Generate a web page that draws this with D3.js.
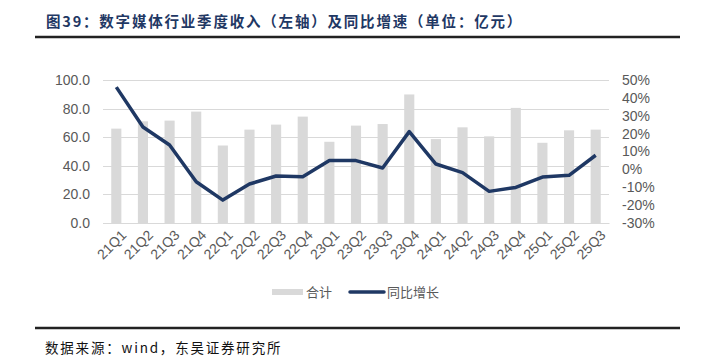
<!DOCTYPE html>
<html>
<head>
<meta charset="utf-8">
<script src="https://cdn.jsdelivr.net/npm/d3@7"></script>
<style>
  body { margin: 0; background: #fff; }
  svg { display: block; }
</style>
</head>
<body>
<div id="grafico"></div>
<script>
var trimestres = ["21Q1","21Q2","21Q3","21Q4","22Q1","22Q2","22Q3","22Q4","23Q1","23Q2","23Q3","23Q4","24Q1","24Q2","24Q3","24Q4","25Q1","25Q2","25Q3"];
// 合计 (亿元), left axis
var receita = [66.0, 71.1, 71.6, 77.9, 54.2, 65.3, 68.8, 74.4, 56.8, 68.1, 69.2, 89.9, 58.7, 66.9, 60.6, 80.5, 56.1, 64.8, 65.3];
// 同比增长 (%), right axis
var crescimento = [46.0, 23.7, 13.6, -6.9, -17.2, -8.2, -3.7, -4.1, 4.9, 4.9, 0.8, 21.1, 3.0, -1.8, -12.3, -10.1, -4.3, -3.3, 7.9];
var ticksEsq = [0, 20, 40, 60, 80, 100];
var ticksDir = [-30, -20, -10, 0, 10, 20, 30, 40, 50];

var titulo = "图39：数字媒体行业季度收入（左轴）及同比增速（单位：亿元）",
    fonte = "数据来源：wind，东吴证券研究所",
    legendas = ["合计", "同比增长"];

var largura = 702, altura = 358,
    corBarra = "#d9d9d9",
    corLinha = "#1f3864",
    corTexto = "#595959",
    fonteNum = "'Liberation Sans', Arial, sans-serif",
    fonteCJK = "'Noto Sans CJK SC', sans-serif";

var svg = d3.select("#grafico").append("svg")
    .attr("width", largura)
    .attr("height", altura);

svg.append("rect").attr("width", largura).attr("height", altura).attr("fill", "#fff");

// titulo + regua
svg.append("text").text(titulo)
   .attr("x", 46).attr("y", 27)
   .style("font-family", fonteCJK)
   .style("font-size", "14.5px")
   .style("font-weight", "bold")
   .style("letter-spacing", "1.8px")
   .style("fill", corLinha);

svg.append("line")
   .attr("x1", 35).attr("x2", 680).attr("y1", 37).attr("y2", 37)
   .attr("stroke", "#222").attr("stroke-width", 2.5);

svg.append("line")
   .attr("x1", 35).attr("x2", 680).attr("y1", 328).attr("y2", 328)
   .attr("stroke", "#222").attr("stroke-width", 2.5);

svg.append("text").text(fonte)
   .attr("x", 45).attr("y", 353)
   .style("font-family", fonteCJK)
   .style("font-size", "13.5px")
   .style("letter-spacing", "1.8px")
   .style("fill", "#111");

// escalas
var x = d3.scaleBand().domain(trimestres).range([103, 609])
    .paddingInner(0.62).paddingOuter(0.31);
var yEsq = d3.scaleLinear().domain([0, 100]).range([223, 80]);
var yDir = d3.scaleLinear().domain([-30, 50]).range([223, 80]);

// grade
svg.append("g").selectAll("line").data(ticksEsq).enter().append("line")
   .attr("x1", 103).attr("x2", 609)
   .attr("y1", function(d){ return Math.round(yEsq(d)) + 0.5; })
   .attr("y2", function(d){ return Math.round(yEsq(d)) + 0.5; })
   .attr("stroke", "#d9d9d9").attr("stroke-width", 1);

// eixo esquerdo
var eixoEsq = svg.append("g").attr("transform", "translate(103,0)")
    .call(d3.axisLeft(yEsq).tickValues(ticksEsq).tickSize(0).tickPadding(13).tickFormat(d3.format(".1f")));
eixoEsq.select(".domain").remove();
eixoEsq.selectAll("text")
   .style("font-family", fonteNum).style("font-size", "14px").style("fill", corTexto);

// eixo direito
var eixoDir = svg.append("g").attr("transform", "translate(609,0)")
    .call(d3.axisRight(yDir).tickValues(ticksDir).tickSize(0).tickPadding(13).tickFormat(function(d){ return d + "%"; }));
eixoDir.select(".domain").remove();
eixoDir.selectAll("text")
   .style("font-family", fonteNum).style("font-size", "14px").style("fill", corTexto);

// barras
svg.append("g").selectAll("rect").data(receita).enter().append("rect")
   .attr("x", function(d, i){ return x(trimestres[i]); })
   .attr("width", x.bandwidth())
   .attr("y", function(d){ return yEsq(d); })
   .attr("height", function(d){ return yEsq(0) - yEsq(d); })
   .attr("fill", corBarra);

// eixo x
var eixoX = svg.append("g").attr("transform", "translate(0,223)")
    .call(d3.axisBottom(x).tickSize(0).tickPadding(0));
eixoX.select(".domain").attr("stroke", "#d9d9d9");
eixoX.selectAll("text")
   .attr("transform", "translate(4,6) rotate(-45)")
   .attr("dy", "0.7em")
   .attr("y", 0)
   .style("text-anchor", "end")
   .style("font-family", fonteNum).style("font-size", "14px").style("fill", corTexto);

// linha
var linha = d3.line()
    .x(function(d, i){ return x(trimestres[i]) + x.bandwidth() / 2; })
    .y(function(d){ return yDir(d); });

svg.append("path").datum(crescimento)
   .attr("d", linha)
   .attr("fill", "none")
   .attr("stroke", corLinha)
   .attr("stroke-width", 3.5)
   .attr("stroke-linejoin", "round");

// legenda
var leg = svg.append("g");
leg.append("rect").attr("x", 272).attr("y", 289).attr("width", 31).attr("height", 6).attr("fill", corBarra);
leg.append("text").text(legendas[0]).attr("x", 306).attr("y", 297)
   .style("font-family", fonteCJK).style("font-size", "13px").style("fill", corTexto);
leg.append("line").attr("x1", 350).attr("x2", 384).attr("y1", 292).attr("y2", 292)
   .attr("stroke", corLinha).attr("stroke-width", 3.5).attr("stroke-linecap", "round");
leg.append("text").text(legendas[1]).attr("x", 387).attr("y", 297)
   .style("font-family", fonteCJK).style("font-size", "13px").style("fill", corTexto);
</script>
</body>
</html>
